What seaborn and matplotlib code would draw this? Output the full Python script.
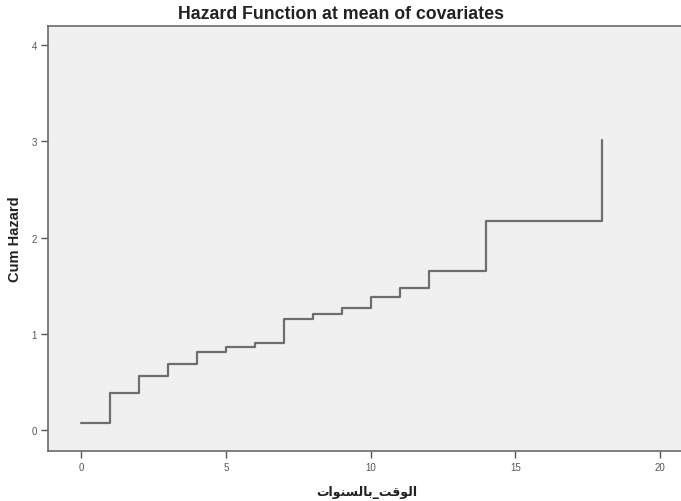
"""
Cumulative hazard at mean of covariates (Cox regression step function).
"""

import matplotlib.pyplot as plt
import pandas as pd
import seaborn as sns

# time points (years) and cumulative hazard
times = [0, 1, 2, 3, 4, 5, 6, 7, 8, 9, 10, 11, 12, 14, 18]
cum_hazard = [0.07, 0.38, 0.56, 0.69, 0.81, 0.86, 0.90, 1.15, 1.20,
              1.27, 1.38, 1.48, 1.65, 2.17, 3.01]

x_ticks = [0, 5, 10, 15, 20]
y_ticks = [0, 1, 2, 3, 4]

title = "Hazard Function at mean of covariates"
y_label = "Cum Hazard"
# "الوقت_بالسنوات" written with presentation forms in visual order,
# since matplotlib does no Arabic shaping itself
x_label = "\uFE95\uFE8D\uFEEE\uFEE8\uFEB4\uFEDF\uFE8E\uFE91_\uFE96\uFED7\uFEEE\uFEDF\uFE8D"

data = pd.DataFrame({"time": times, "hazard": cum_hazard})

sns.set_theme(style="ticks")
plt.rcParams["font.family"] = ["Liberation Sans", "DejaVu Sans"]

fig = plt.figure(figsize=(6.81, 5.02), dpi=100)
ax = fig.add_axes([0.0705, 0.0996, 0.935, 0.8465])
ax.set_facecolor("#f0f0f0")

sns.lineplot(data=data, x="time", y="hazard", drawstyle="steps-post",
             color="#6e6e6e", linewidth=1.6, ax=ax)

ax.set_xlim(-1.15, 20.85)
ax.set_ylim(-0.22, 4.2)
ax.set_xticks(x_ticks)
ax.set_yticks(y_ticks)
ax.tick_params(axis="both", length=5, width=1, color="#555555",
               labelsize=7, labelcolor="#555555", pad=3)

for side in ["left", "bottom", "top"]:
    ax.spines[side].set_color("#6a6a6a")
    ax.spines[side].set_linewidth(1.2)
ax.spines["right"].set_visible(False)

fig.suptitle(title, x=0.5, y=0.972, va="center", fontsize=12.8,
             fontweight="bold", color="#222222")
ax.set_ylabel(y_label, fontsize=10.5, fontweight="bold", color="#222222",
              labelpad=7)
ax.set_xlabel(x_label, fontsize=9, fontweight="bold", color="#222222",
              family=["DejaVu Sans"], labelpad=9)

fig.savefig("out.png", dpi=100)
